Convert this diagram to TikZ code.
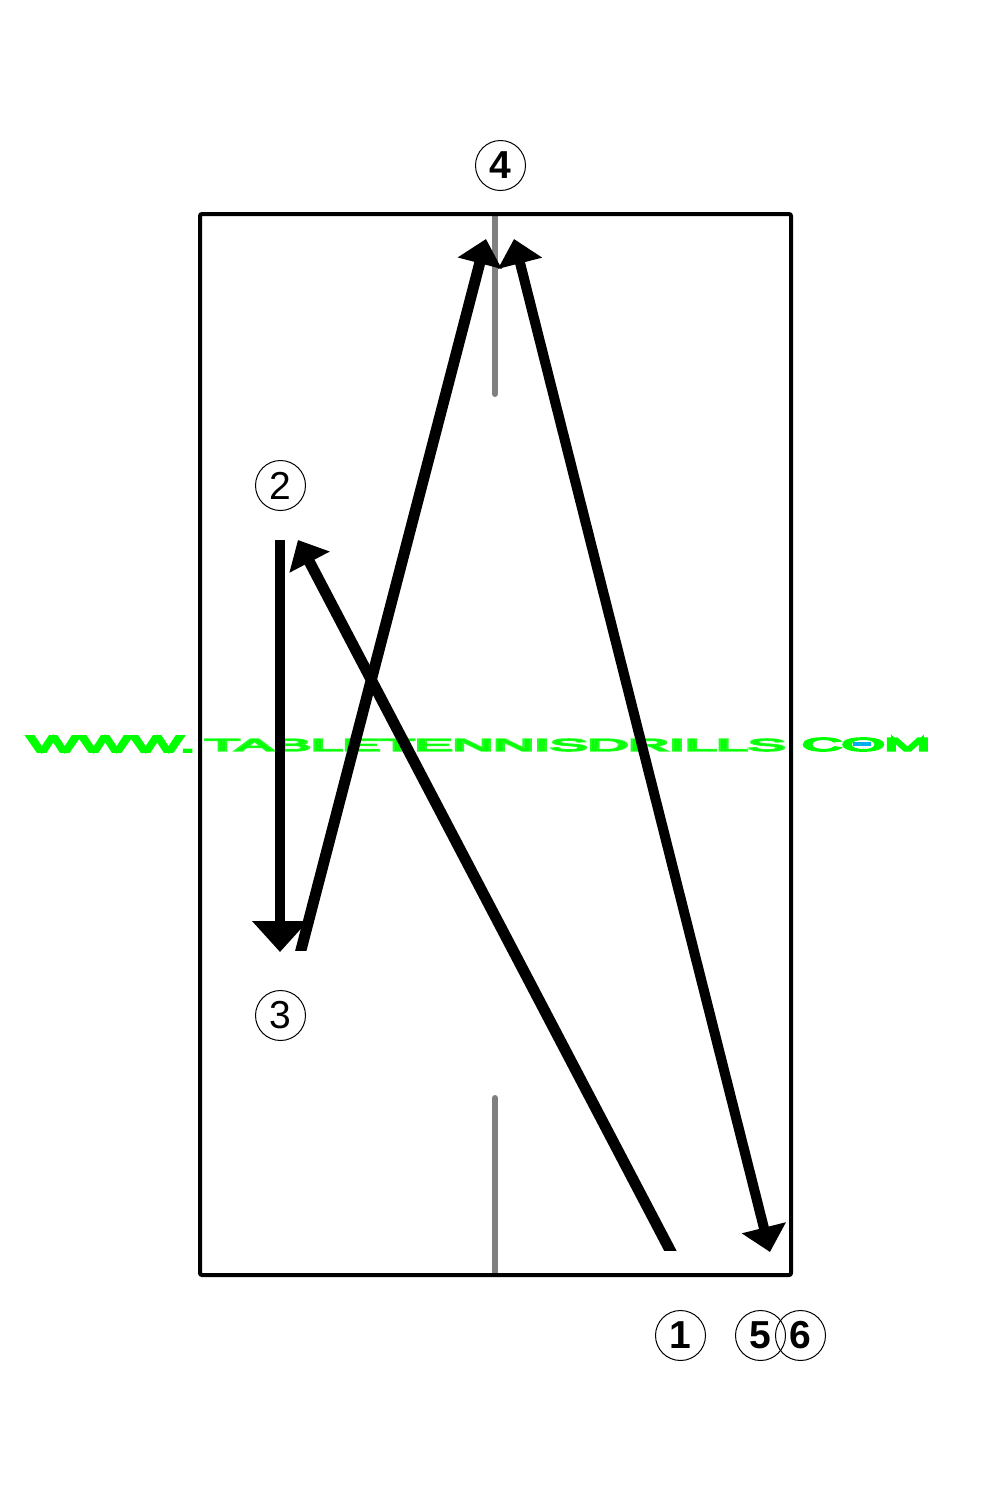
\documentclass[tikz,border=0pt]{standalone}
\usepackage{fontspec}
\setmainfont{Liberation Sans}
\newfontfamily\markfont[FakeBold=8]{Liberation Sans}
\usetikzlibrary{arrows.meta}

\definecolor{markgreen}{RGB}{0,255,0}

\begin{document}
\begin{tikzpicture}[
    x=1pt, y=-1pt,
    numcircle/.style={circle, draw, line width=1pt, minimum size=50pt, inner sep=0pt, font=\fontsize{39}{39}\selectfont},
    boldnum/.style={numcircle, font=\fontsize{39}{39}\selectfont\bfseries},
    webmark/.style={inner sep=0pt, text=markgreen, font=\markfont},
    tablenet/.style={draw=black!50, line width=6pt, line cap=round},
    ballpath/.style={draw, line width=11pt, -{Triangle[length=25pt, width=44pt]}}]

\useasboundingbox (0,0) rectangle (1000,1500);

% watermark
\node[webmark, anchor=west](wwwpart) at (27,744){\resizebox{168pt}{16pt}{WWW.}};
\node[webmark, anchor=west, opacity=0.85](namepart) at (205,745){\resizebox{580pt}{12pt}{TABLETENNISDRILLS}};
\node[webmark, anchor=west](compart) at (802,744.5){\resizebox{128pt}{13pt}{COM}};
\fill[cyan] (853,742) rectangle (871,746);

% table
\coordinate (nettop) at (495,216);
\coordinate (nettopend) at (495,394);
\coordinate (netbottom) at (495,1273);
\coordinate (netbottomend) at (495,1098);
\draw[tablenet] (nettop) -- (nettopend);
\draw[tablenet] (netbottom) -- (netbottomend);
\node[draw, line width=4pt, outer sep=0pt, rounded corners=2pt, minimum width=591pt, minimum height=1061pt, inner sep=0pt, anchor=north west](tablebox) at (200,214){};

% numbers
\node[boldnum](num1) at (680.5,1335.5){1};
\node[numcircle](num2) at (280.5,485.5){2};
\node[numcircle](num3) at (280.5,1015.5){3};
\node[boldnum](num4) at (500.5,165.5){4};
\node[boldnum](num5) at (760.5,1335.5){5};
\node[boldnum](num6) at (800.5,1335.5){6};

% ball path
\coordinate (hit1) at (675.2,1260);
\coordinate (land2) at (298,540);
\coordinate (hit2) at (280,540);
\coordinate (land3) at (280,952);
\coordinate (hit3) at (298.4,960);
\coordinate (land4) at (486,239);
\coordinate (hit4) at (514,239);
\coordinate (land5) at (770,1252);

\begin{scope}
\clip (0,0) rectangle (1000,1250);
\draw[ballpath] (hit1) -- (land2);
\end{scope}
\draw[ballpath, line width=10pt, -{Triangle[length=31pt, width=54pt]}] (hit2) -- (land3);
\begin{scope}
\clip (0,0) rectangle (1000,950);
\draw[ballpath] (hit3) -- (land4);
\end{scope}
\draw[ballpath, line width=10pt, {Triangle[length=25pt, width=44pt]}-{Triangle[length=25pt, width=44pt]}] (hit4) -- (land5);
\end{tikzpicture}
\end{document}
